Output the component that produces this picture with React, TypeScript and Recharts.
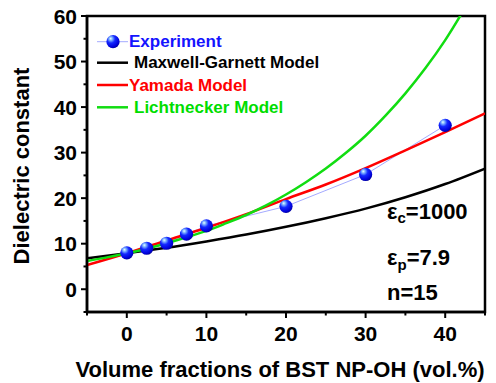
import { LineChart, Line, XAxis, YAxis, ReferenceArea, Legend } from 'recharts';

// measured points (vol.% -> dielectric constant)
const expX = [0, 2.5, 5, 7.5, 10, 20, 30, 40];
const expY = [8.0, 9.0, 10.1, 12.1, 13.9, 18.2, 25.2, 36.0];

// model curves
const modelX = [-5, 0, 5, 10, 15, 20, 25, 30, 35, 40, 45];
const maxwellY = [6.8, 7.9, 9.1, 10.5, 12.0, 13.7, 15.6, 17.7, 20.2, 23.1, 26.5];
const yamadaY = [5.3, 7.9, 10.7, 13.5, 16.5, 19.8, 23.0, 26.6, 30.5, 34.5, 38.6];

const lichtX = [-5, -2.5, 0, 2.5, 5, 7.5, 10, 12.5, 15, 17.5, 20, 22.5, 25, 27.5, 30, 32.5, 35, 37.5, 40, 42.5];
const lichtY = [6.2, 7.0, 7.9, 8.9, 10.1, 11.4, 12.8, 14.5, 16.3, 18.4, 20.8, 23.5, 26.5, 29.9, 33.7, 38.1, 43.0, 48.5, 54.7, 61.8];

const xTicks = [-5, 0, 5, 10, 15, 20, 25, 30, 35, 40, 45];
const yTicks = [-5, 0, 5, 10, 15, 20, 25, 30, 35, 40, 45, 50, 55, 60];

const seriesNames = ['Experiment', 'Maxwell-Garnett Model', 'Yamada Model', 'Lichtnecker Model'];

const epsC = 1000;
const epsP = 7.9;
const nValue = 15;

const FONT = '"Liberation Sans", Arial, Helvetica, sans-serif';

const expData = expX.map((x, i) => ({ x, y: expY[i] }));
const maxwellData = modelX.map((x, i) => ({ x, y: maxwellY[i] }));
const yamadaData = modelX.map((x, i) => ({ x, y: yamadaY[i] }));
const lichtData = lichtX.map((x, i) => ({ x, y: lichtY[i] }));

function SphereGradient({ id }: { id: string }) {
  return (
    <defs>
      <radialGradient id={id} cx="38%" cy="32%" r="70%" fx="32%" fy="26%">
        <stop offset="0%" stopColor="#e8ffff" />
        <stop offset="18%" stopColor="#7fb4ff" />
        <stop offset="45%" stopColor="#1428ff" />
        <stop offset="85%" stopColor="#0000d8" />
        <stop offset="100%" stopColor="#00009a" />
      </radialGradient>
    </defs>
  );
}

function SphereDot(props: any) {
  const { cx, cy } = props;
  if (cx == null || cy == null) return <g />;
  return (
    <g>
      <SphereGradient id="sphereFill" />
      <circle cx={cx} cy={cy} r={6.6} fill="url(#sphereFill)" />
    </g>
  );
}

function XTick({ x, y, payload }: any) {
  const v = payload.value;
  const major = v % 10 === 0;
  return (
    <g>
      <line x1={x} x2={x} y1={y} y2={y + (major ? 6 : 3.5)} stroke="#000" strokeWidth={2} />
      {major && (
        <text x={x} y={y + 28.5} textAnchor="middle" fontFamily={FONT} fontWeight="bold" fontSize={21} fill="#000">
          {v}
        </text>
      )}
    </g>
  );
}

function YTick({ x, y, payload }: any) {
  const v = payload.value;
  const major = v % 10 === 0;
  return (
    <g>
      <line x1={x} x2={x - (major ? 6 : 3.5)} y1={y} y2={y} stroke="#000" strokeWidth={2} />
      {major && (
        <text x={x - 10} y={y + 7.5} textAnchor="end" fontFamily={FONT} fontWeight="bold" fontSize={21} fill="#000">
          {v}
        </text>
      )}
    </g>
  );
}

function LegendBox() {
  const textStyle = { fontFamily: FONT, fontWeight: 'bold' as const, fontSize: 17 };
  return (
    <svg width={340} height={120} style={{ display: 'block' }}>
      <SphereGradient id="legendSphere" />
      {/* Experiment */}
      <line x1={97} x2={128} y1={41.7} y2={41.7} stroke="#a4aaff" strokeWidth={1} />
      <circle cx={113} cy={41.7} r={6.6} fill="url(#legendSphere)" />
      <text x={129} y={46.7} fill="#1414ff" {...textStyle}>{seriesNames[0]}</text>
      {/* Maxwell-Garnett */}
      <line x1={97} x2={128} y1={62.7} y2={62.7} stroke="#000" strokeWidth={2.5} />
      <text x={134} y={68.3} fill="#000" {...textStyle}>{seriesNames[1]}</text>
      {/* Yamada */}
      <line x1={97} x2={128} y1={85} y2={85} stroke="#ff0000" strokeWidth={2.5} />
      <text x={129} y={90.7} fill="#ff0000" {...textStyle}>{seriesNames[2]}</text>
      {/* Lichtnecker */}
      <line x1={97} x2={128} y1={107.3} y2={107.3} stroke="#11dd11" strokeWidth={2.5} />
      <text x={134} y={112.7} fill="#00dd00" {...textStyle}>{seriesNames[3]}</text>
    </svg>
  );
}

export default function App() {
  const titleStyle = { fontFamily: FONT, fontWeight: 'bold' as const, fontSize: 22, fill: '#000' };
  return (
    <div style={{ position: 'absolute', left: 0, top: 0, width: 496, height: 383, background: '#fff' }}>
      <LineChart width={496} height={383} margin={{ top: 16, right: 11, bottom: 0, left: 0 }}>
        <XAxis
          type="number"
          dataKey="x"
          domain={[-5, 45]}
          ticks={xTicks}
          interval={0}
          allowDataOverflow
          height={71}
          tickSize={0}
          tickMargin={0}
          tickLine={false}
          tick={<XTick />}
          axisLine={{ stroke: '#000', strokeWidth: 2.5 }}
          label={() => (
            <text x={280} y={377} textAnchor="middle" {...titleStyle}>
              Volume fractions of BST NP-OH (vol.%)
            </text>
          )}
        />
        <YAxis
          type="number"
          dataKey="y"
          domain={[-5, 60]}
          ticks={yTicks}
          interval={0}
          allowDataOverflow
          width={87}
          tickSize={0}
          tickMargin={0}
          tickLine={false}
          tick={<YTick />}
          axisLine={{ stroke: '#000', strokeWidth: 2.5 }}
          label={() => (
            <text x={29} y={166} textAnchor="middle" transform="rotate(-90 29 166)" {...titleStyle}>
              Dielectric constant
            </text>
          )}
        />
        <ReferenceArea x1={-5} x2={45} y1={-5} y2={60} fill="none" stroke="#000" strokeWidth={2.5} ifOverflow="visible" />
        <Line
          data={expData}
          dataKey="y"
          name={seriesNames[0]}
          type="linear"
          stroke="#a4aaff"
          strokeWidth={1}
          dot={(p: any) => <SphereDot key={`exp-${p.index}`} {...p} />}
          activeDot={false}
          isAnimationActive={false}
        />
        <Line
          data={maxwellData}
          dataKey="y"
          name={seriesNames[1]}
          type="monotone"
          stroke="#000"
          strokeWidth={2.5}
          dot={false}
          isAnimationActive={false}
        />
        <Line
          data={yamadaData}
          dataKey="y"
          name={seriesNames[2]}
          type="monotone"
          stroke="#ff0000"
          strokeWidth={2.5}
          dot={false}
          isAnimationActive={false}
        />
        <Line
          data={lichtData}
          dataKey="y"
          name={seriesNames[3]}
          type="monotone"
          stroke="#11dd11"
          strokeWidth={2.5}
          dot={false}
          isAnimationActive={false}
        />
        <Legend
          layout="horizontal"
          verticalAlign="middle"
          align="center"
          wrapperStyle={{ left: 0, top: 0, width: 340, height: 120 }}
          content={() => <LegendBox />}
        />
      </LineChart>
      <svg width={496} height={383} style={{ position: 'absolute', left: 0, top: 0, pointerEvents: 'none' }}>
        <text x={387} y={219} fontFamily={FONT} fontWeight="bold" fontSize={22} fill="#000">
          ε<tspan dy={4} fontSize={15}>c</tspan>
          <tspan dy={-4}>={epsC}</tspan>
        </text>
        <text x={387} y={265} fontFamily={FONT} fontWeight="bold" fontSize={22} fill="#000">
          ε<tspan dy={5} fontSize={15}>p</tspan>
          <tspan dy={-5}>={epsP}</tspan>
        </text>
        <text x={387} y={300} fontFamily={FONT} fontWeight="bold" fontSize={22} fill="#000">
          n={nValue}
        </text>
      </svg>
    </div>
  );
}
